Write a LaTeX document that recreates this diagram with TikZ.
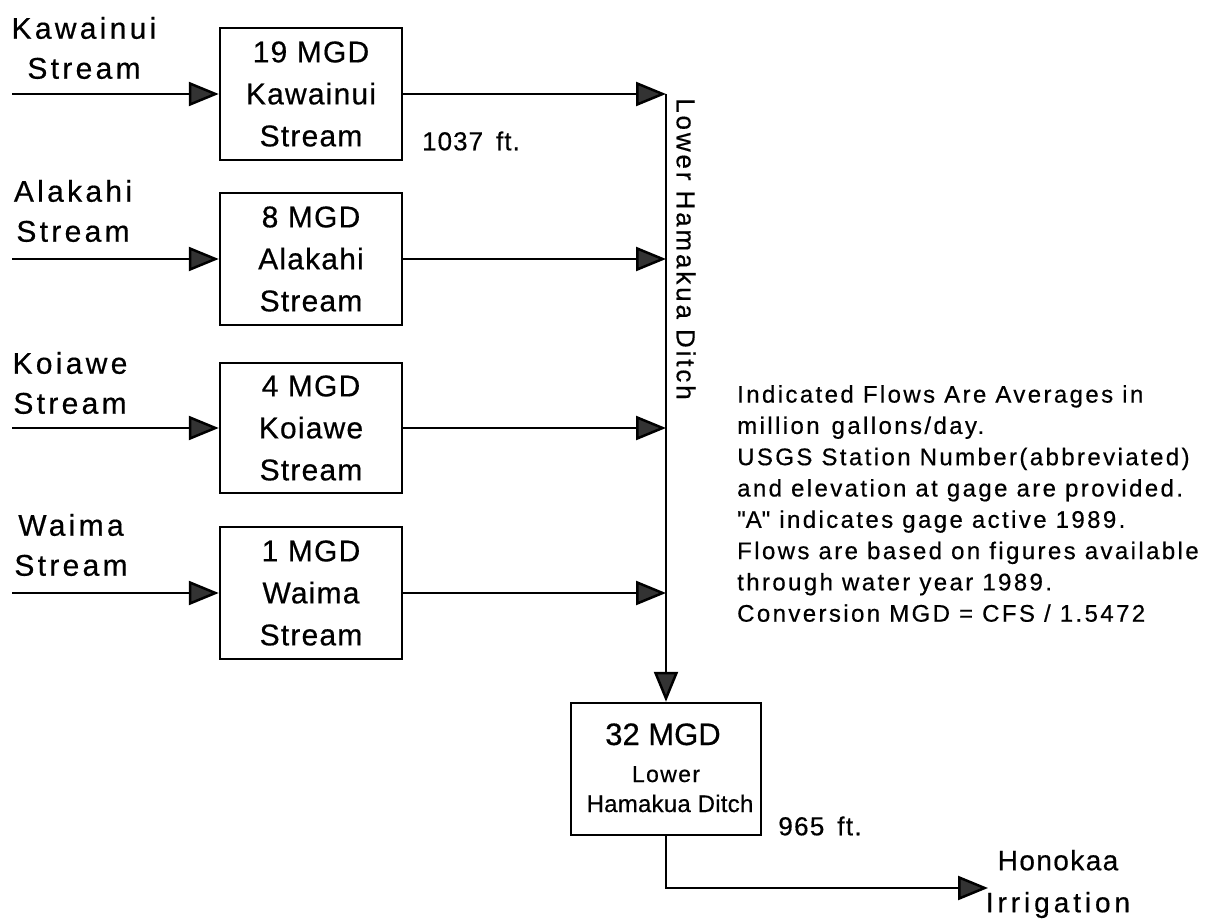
\documentclass[tikz,border=0pt]{standalone}
\usepackage{fontspec}
\setmainfont{Liberation Sans}[FakeBold=0.5]
\usetikzlibrary{arrows.meta}
\newcommand\lsp[1]{\addfontfeatures{LetterSpace=#1}}
\newcommand\fsz[2]{\fontsize{#1}{#2}\selectfont}
\newcommand\sq{{\addfontfeatures{Ligatures=TeXOff}"}}
\begin{document}
\begin{tikzpicture}[x=1pt,y=-1pt,
  flow/.style={-{Triangle[length=30pt,width=24pt,fill=black!80]}, line width=2.5pt},
  box/.style={draw, line width=2.5pt, minimum width=182pt, minimum height=132pt, inner sep=0pt, align=center, font=\fsz{30}{42}\lsp{4}},
  lbl/.style={inner sep=0pt, align=center, font=\fsz{30}{40}\lsp{11}},
  note/.style={inner sep=0pt, align=left, font=\fsz{24}{31.3}\lsp{10}},
  txt/.style={inner sep=0pt},
]
\useasboundingbox (0,0) rectangle (1218,920);

% stream labels
\node[lbl] (lkaw) at (84,48) {Kawainui\\Stream};
\node[lbl] (lala) at (73,211) {Alakahi\\Stream};
\node[lbl] (lkoi) at (70,383) {Koiawe\\Stream};
\node[lbl] (lwai) at (71,545) {Waima\\Stream};

% boxes
\node[box] (bkaw) at (311,94) {19 MGD\\Kawainui\\Stream};
\node[box] (bala) at (311,259) {8 MGD\\Alakahi\\Stream};
\node[box, minimum height=130pt] (bkoi) at (311,428) {4 MGD\\Koiawe\\Stream};
\node[box] (bwai) at (311,593) {1 MGD\\Waima\\Stream};

\node[draw, line width=2.5pt, minimum width=190pt, minimum height=132pt, inner sep=0pt] (bldh) at (666,769) {};
\node[txt, anchor=base, font=\fsz{31}{31}] (t32) at (663,745) {32 MGD};
\node[txt, anchor=base, font=\fsz{23}{23}\lsp{6}] (tlow) at (666,782) {Lower};
\node[txt, anchor=base, font=\fsz{24}{24}\lsp{1}] (tham) at (670,812) {Hamakua Ditch};

% stream inlets
\coordinate (skaw) at (12,94);
\coordinate (sala) at (12,259);
\coordinate (skoi) at (12,428);
\coordinate (swai) at (12,593);
\draw[flow] (skaw) -- (bkaw.west);
\draw[flow] (sala) -- (bala.west);
\draw[flow] (skoi) -- (bkoi.west);
\draw[flow] (swai) -- (bwai.west);

% junctions on ditch
\coordinate (jkaw) at (666,94);
\coordinate (jala) at (666,259);
\coordinate (jkoi) at (666,428);
\coordinate (jwai) at (666,593);
\draw[flow] (bkaw.east) -- (jkaw);
\draw[flow] (bala.east) -- (jala);
\draw[flow] (bkoi.east) -- (jkoi);
\draw[flow] (bwai.east) -- (jwai);
\draw[flow] (jkaw) -- (bldh.north);

% ditch label
\node[txt, rotate=-90, font=\fsz{26}{26}\lsp{11}] (ditch) at (686,249) {Lower Hamakua Ditch};

% elevations
\node[txt, font=\fsz{26}{26}\lsp{4}] (e1037) at (471,141) {1037\enspace ft.};
\node[txt, font=\fsz{26}{26}\lsp{5}] (e965) at (820,826) {965\enspace ft.};

% output
\coordinate (corner) at (bldh.south |- 0,888);
\coordinate (hono) at (988,888);
\draw[flow] (bldh.south) -- (corner) -- (hono);
\node[txt, align=center, font=\fsz{28}{42}] (lhono) at (1058,884)
  {{\lsp{5}Honokaa}\\{\lsp{14}Irrigation}};

% notes
\node[note, anchor=north west] (notes) at (737,385)
  {Indicated Flows Are Averages in\\
   million\enspace gallons/day.\\
   USGS Station Number(abbreviated)\\
   and elevation at gage are provided.\\
   \sq A\sq{} indicates gage active 1989.\\
   Flows are based on figures available\\
   through water year 1989.\\
   Conversion MGD = CFS / 1.5472};
\end{tikzpicture}
\end{document}
